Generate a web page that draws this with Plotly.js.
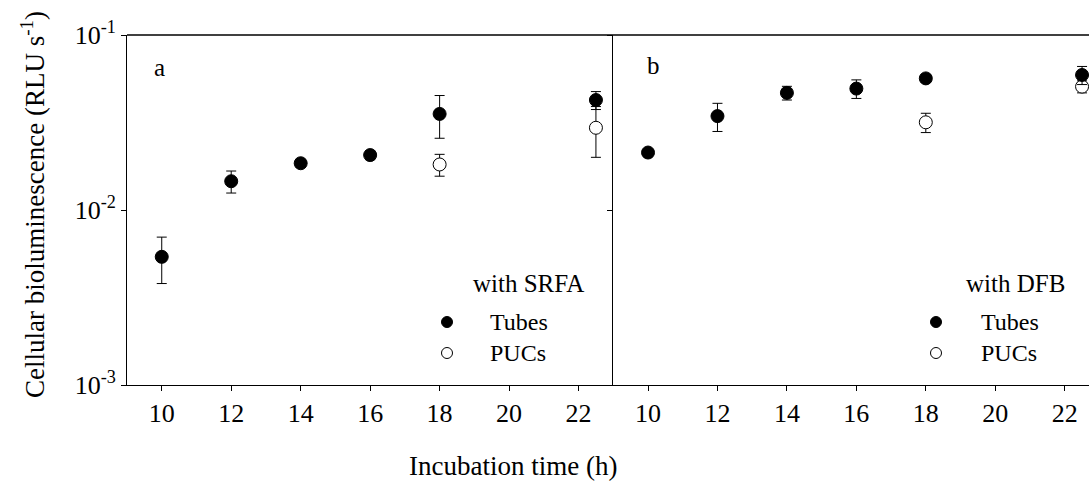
<!DOCTYPE html>
<html>
<head>
<meta charset="utf-8">
<script src="https://cdn.plot.ly/plotly-3.0.1.min.js"></script>
<style>html,body{margin:0;padding:0;background:#fff;}#chart{width:1089px;height:487px;}</style>
</head>
<body>
<div id="chart"></div>
<script>
// Panel a (with SRFA)
var timesA = [10, 12, 14, 16, 18, 22.5];
var tubesA = [0.0054, 0.0146, 0.0185, 0.0206, 0.0354, 0.0425];
var tubesAErr = [0.0016, 0.0021, 0.0010, 0.0012, 0.0097, 0.0050];
var pucTimesA = [18, 22.5];
var pucsA = [0.0182, 0.0295];
var pucsAErr = [0.0026, 0.0095];

// Panel b (with DFB)
var timesB = [10, 12, 14, 16, 18, 22.5];
var tubesB = [0.0213, 0.0344, 0.0467, 0.0494, 0.0565, 0.0591];
var tubesBErr = [0.0008, 0.0063, 0.0042, 0.0060, 0.0030, 0.0070];
var pucTimesB = [18, 22.5];
var pucsB = [0.0317, 0.0507];
var pucsBErr = [0.0040, 0.0040];

var xTicks = [10, 12, 14, 16, 18, 20, 22];
var yTickVals = [0.001, 0.01, 0.1];
var yTickText = ['10<sup>-3</sup>', '10<sup>-2</sup>', '10<sup>-1</sup>'];

var FONT = 'Liberation Serif, Times New Roman, serif';

function errObj(arr) {
  return {type: 'data', array: arr, visible: true, color: '#000', thickness: 1, width: 5};
}
function openTrace(x, y, e, xa, ya) {
  return {x: x, y: y, xaxis: xa, yaxis: ya, type: 'scatter', mode: 'markers',
    error_y: errObj(e), showlegend: false,
    marker: {symbol: 'circle', size: 13, color: '#fff', line: {color: '#000', width: 1}}};
}
function filledTrace(x, y, e, xa, ya) {
  return {x: x, y: y, xaxis: xa, yaxis: ya, type: 'scatter', mode: 'markers',
    error_y: errObj(e), showlegend: false,
    marker: {symbol: 'circle', size: 13, color: '#000', line: {color: '#000', width: 1}}};
}

var data = [
  openTrace(pucTimesA, pucsA, pucsAErr, 'x', 'y'),
  filledTrace(timesA, tubesA, tubesAErr, 'x', 'y'),
  openTrace(pucTimesB, pucsB, pucsBErr, 'x2', 'y2'),
  filledTrace(timesB, tubesB, tubesBErr, 'x2', 'y2')
];

// pixel -> paper helpers (plot area: x 127..1089, y 35..385)
var L = 127, R = 1089, T = 35, B = 385;
function px(v) { return (v - L) / (R - L); }
function py(v) { return (B - v) / (B - T); }
var split = px(613.3);

function circle(cx, cy, filled) {
  var r = 5.5;
  return {type: 'circle', xref: 'paper', yref: 'paper',
    x0: px(cx - r), x1: px(cx + r), y0: py(cy + r), y1: py(cy - r),
    fillcolor: filled ? '#000' : '#fff', line: {color: '#000', width: 1}};
}
function txt(text, x, y, anchor, size) {
  return {text: text, xref: 'paper', yref: 'paper', x: px(x), y: py(y),
    xanchor: anchor || 'left', yanchor: 'middle', showarrow: false,
    font: {family: FONT, size: size || 24, color: '#000'}};
}

var axX = {
  tickmode: 'array', tickvals: xTicks, ticks: 'outside', ticklen: 5, tickwidth: 1,
  tickcolor: '#000', showline: true, linecolor: '#000', linewidth: 1,
  showgrid: false, zeroline: false,
  tickfont: {family: FONT, size: 26, color: '#000'}
};
var axY = {
  type: 'log', range: [-3, -1], tickmode: 'array', tickvals: yTickVals,
  ticks: 'outside', ticklen: 5, tickwidth: 1, tickcolor: '#000',
  showline: true, linecolor: '#000', linewidth: 1, showgrid: false, zeroline: false
};

var layout = {
  width: 1089, height: 487,
  margin: {l: L, r: 0, t: T, b: 487 - B, pad: 0},
  paper_bgcolor: '#fff', plot_bgcolor: '#fff',
  showlegend: false,
  xaxis: Object.assign({}, axX, {domain: [0, split], range: [9, 23], anchor: 'y'}),
  xaxis2: Object.assign({}, axX, {domain: [split, 1], range: [9, 22.70], anchor: 'y2'}),
  yaxis: Object.assign({}, axY, {anchor: 'x', ticktext: yTickText, showticklabels: true,
    tickfont: {family: FONT, size: 26, color: '#000'}}),
  yaxis2: Object.assign({}, axY, {anchor: 'x2', showticklabels: false}),
  shapes: [
    {type: 'line', xref: 'paper', yref: 'paper', x0: 0, x1: 1, y0: 1, y1: 1, line: {color: '#000', width: 1.5}},
    circle(447, 322, true), circle(447, 353, false),
    circle(936, 322, true), circle(936, 353, false)
  ],
  annotations: [
    txt('a', 152, 67, 'left', 25),
    txt('b', 645, 66, 'left', 25),
    txt('with SRFA', 471, 283, 'left', 25),
    txt('Tubes', 488, 322),
    txt('PUCs', 488, 353),
    txt('with DFB', 964, 283, 'left', 25),
    txt('Tubes', 979, 322),
    txt('PUCs', 979, 353),
    {text: 'Incubation time (h)', xref: 'paper', yref: 'paper', x: px(513), y: py(466),
      xanchor: 'center', yanchor: 'middle', showarrow: false,
      font: {family: FONT, size: 27, color: '#000'}},
    {text: 'Cellular bioluminescence (RLU s<sup>-1</sup>)', xref: 'paper', yref: 'paper',
      x: px(33), y: py(205), xanchor: 'center', yanchor: 'middle', textangle: -90,
      showarrow: false, font: {family: FONT, size: 27, color: '#000'}}
  ]
};

Plotly.newPlot('chart', data, layout, {displayModeBar: false, staticPlot: true});
</script>
</body>
</html>
